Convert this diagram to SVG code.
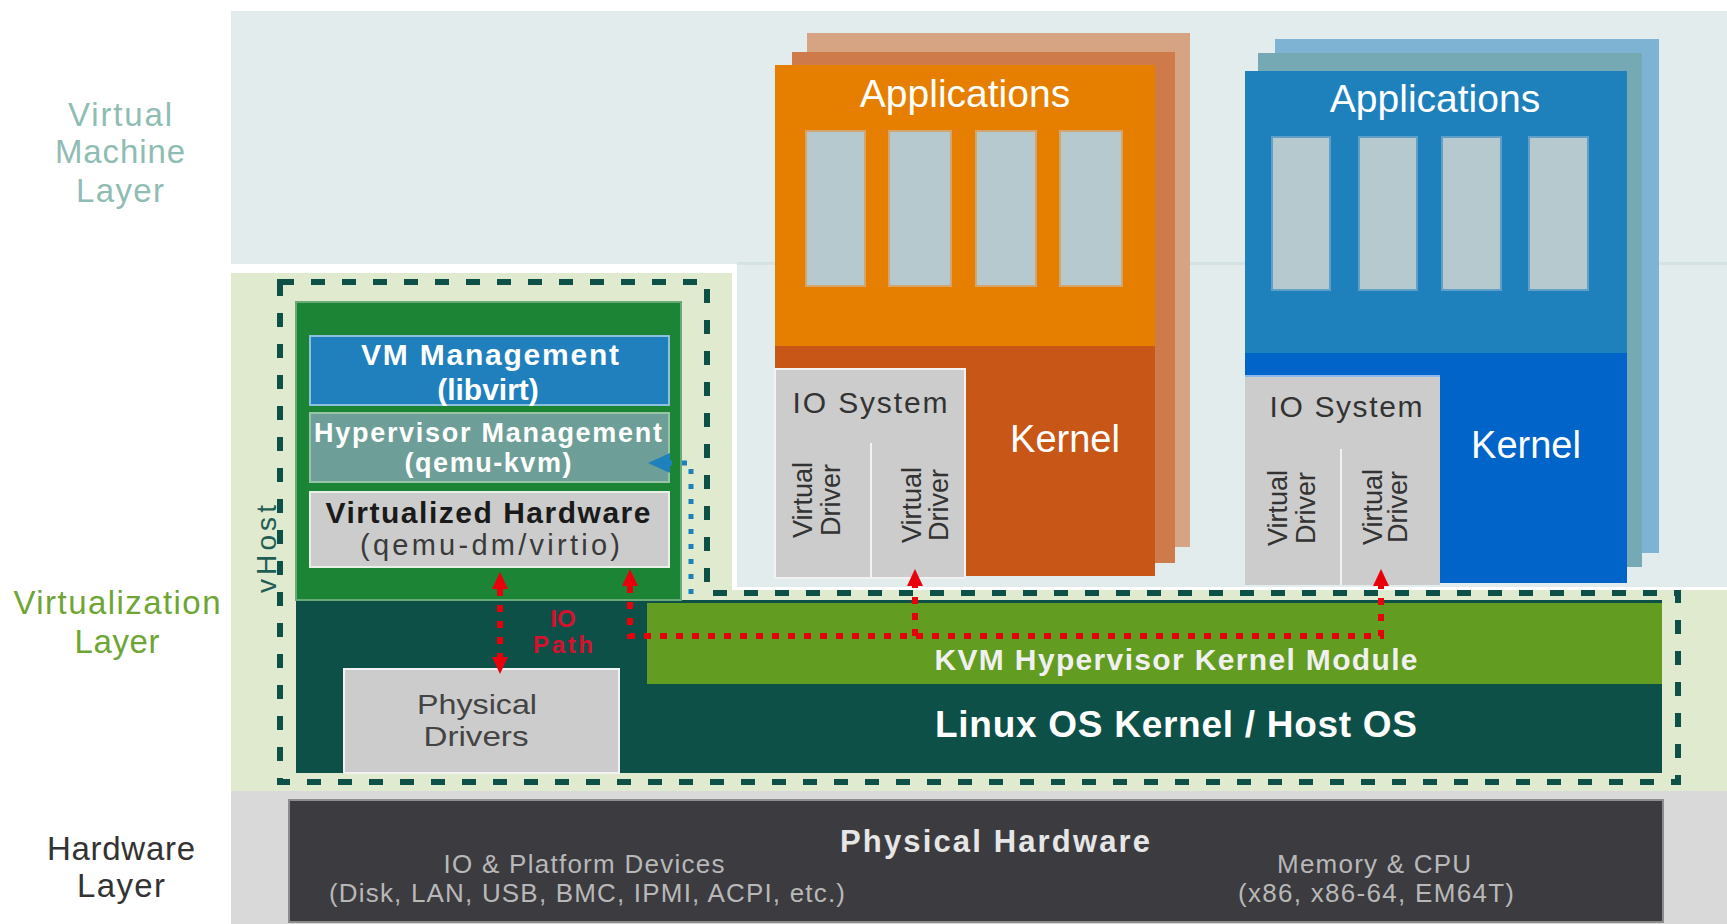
<svg xmlns="http://www.w3.org/2000/svg" width="1727" height="924" viewBox="0 0 1727 924">
<style>
text{font-family:"Liberation Sans",Arial,sans-serif;}
.lbl{font-size:33px;text-anchor:middle;}
.mid{text-anchor:middle;}
.wb{fill:#ffffff;font-weight:bold;}
.col-o{fill:#b5c9cf;stroke:#d3a66e;stroke-width:2;}
.col-b{fill:#b6c9cf;stroke:#5f9fc8;stroke-width:2;}
.io{fill:#cccccc;stroke:#f2f2f2;stroke-width:2;}
.iot{font-size:30px;fill:#333333;text-anchor:middle;}
.vd{font-size:27px;fill:#333333;text-anchor:middle;}
.kern{font-size:38px;fill:#ffffff;text-anchor:middle;}
.app{font-size:39px;fill:#ffffff;text-anchor:middle;}
.hw{font-size:26px;fill:#b8b8b8;text-anchor:middle;}
.red{fill:none;stroke:#e8000b;stroke-width:6;stroke-dasharray:7 9;}
</style>
<defs>
<marker id="arrRed" viewBox="0 0 10 10" refX="0" refY="5" markerWidth="17" markerHeight="16" markerUnits="userSpaceOnUse" orient="auto-start-reverse" preserveAspectRatio="none"><path d="M0,0 L10,5 L0,10 z" fill="#e8000b"/></marker>
<marker id="arrBlue" viewBox="0 0 10 10" refX="0" refY="5" markerWidth="22" markerHeight="20" markerUnits="userSpaceOnUse" orient="auto" preserveAspectRatio="none"><path d="M0,0 L10,5 L0,10 z" fill="#1e81bc"/></marker>
</defs>
<rect x="0" y="0" width="1727" height="924" fill="#ffffff"/>

<g id="layers">
<rect x="231" y="11" width="1496" height="253" fill="#e2ecec"/>
<rect x="737" y="264" width="990" height="323" fill="#e2ecec"/>
<rect x="737" y="262" width="990" height="3" fill="#d4e3e1"/>
<path d="M231,273 H732 V590 H1727 V791 H231 Z" fill="#dfeacf"/>
<rect x="231" y="791" width="1496" height="133" fill="#d9d9d9"/>
<text class="lbl" x="120" y="126" fill="#8fbcb3" textLength="104">Virtual</text>
<text class="lbl" x="120" y="163" fill="#8fbcb3" textLength="130">Machine</text>
<text class="lbl" x="120" y="202" fill="#8fbcb3" textLength="88">Layer</text>
<text class="lbl" x="117" y="614" fill="#6ea534" textLength="207">Virtualization</text>
<text class="lbl" x="117" y="653" fill="#6ea534" textLength="85">Layer</text>
<text class="lbl" x="121" y="860" fill="#333333" textLength="148">Hardware</text>
<text class="lbl" x="121" y="897" fill="#333333" textLength="88">Layer</text>
</g>

<g id="vm-orange">
<rect x="807" y="33" width="383" height="514" fill="#d6a383"/>
<rect x="792" y="52" width="383" height="511" fill="#cf7a4a"/>
<rect x="775" y="65" width="380" height="281" fill="#e67f00"/>
<rect x="775" y="346" width="380" height="230" fill="#c85617"/>
<text class="app" x="965" y="107">Applications</text>
<rect class="col-o" x="806" y="131" width="59" height="155"/>
<rect class="col-o" x="889" y="131" width="62" height="155"/>
<rect class="col-o" x="976" y="131" width="60" height="155"/>
<rect class="col-o" x="1060" y="131" width="62" height="155"/>
<rect class="io" x="775" y="369" width="190" height="209"/>
<line x1="871" y1="443" x2="871" y2="578" stroke="#f2f2f2" stroke-width="2"/>
<text class="iot" x="870" y="413" textLength="155">IO System</text>
<text class="vd" transform="translate(812,500) rotate(-90)"><tspan x="0" y="0">Virtual</tspan><tspan x="0" y="28">Driver</tspan></text>
<text class="vd" transform="translate(921,505) rotate(-90)"><tspan x="0" y="0">Virtual</tspan><tspan x="0" y="27">Driver</tspan></text>
<text class="kern" x="1065" y="452">Kernel</text>
</g>

<g id="vm-blue">
<rect x="1275" y="39" width="384" height="514" fill="#7fb3d3"/>
<rect x="1258" y="53" width="384" height="514" fill="#75aab5"/>
<rect x="1245" y="71" width="382" height="282" fill="#1e81bc"/>
<rect x="1245" y="353" width="382" height="230" fill="#0064c8"/>
<text class="app" x="1435" y="112">Applications</text>
<rect class="col-b" x="1272" y="137" width="58" height="153"/>
<rect class="col-b" x="1359" y="137" width="58" height="153"/>
<rect class="col-b" x="1442" y="137" width="59" height="153"/>
<rect class="col-b" x="1529" y="137" width="59" height="153"/>
<rect x="1245" y="375" width="195" height="210" fill="#cccccc"/>
<line x1="1245" y1="376" x2="1440" y2="376" stroke="#8ab8e8" stroke-width="2"/>
<line x1="1341" y1="449" x2="1341" y2="585" stroke="#f2f2f2" stroke-width="2"/>
<text class="iot" x="1346" y="417" textLength="153">IO System</text>
<text class="vd" transform="translate(1287,508) rotate(-90)"><tspan x="0" y="0">Virtual</tspan><tspan x="0" y="28">Driver</tspan></text>
<text class="vd" transform="translate(1382,507) rotate(-90)"><tspan x="0" y="0">Virtual</tspan><tspan x="0" y="25">Driver</tspan></text>
<text class="kern" x="1526" y="458">Kernel</text>
</g>

<g id="host-os">
<rect x="296" y="600" width="1366" height="173" fill="#0d5048"/>
<text x="1176" y="737" class="wb mid" font-size="37" textLength="482">Linux OS Kernel / Host OS</text>
</g>

<g id="kvm-module">
<rect x="647" y="603" width="1015" height="81" fill="#629c20"/>
<text x="1176" y="670" class="mid" font-size="30" font-weight="bold" fill="#f0f0f0" textLength="483">KVM Hypervisor Kernel Module</text>
</g>

<g id="vhost">
<rect x="296" y="302" width="385" height="298" fill="#1c8435" stroke="#6aaa78" stroke-width="2"/>
<text transform="translate(276,549) rotate(-90)" class="mid" font-size="28" fill="#1f5e55" textLength="88">vHost</text>
</g>

<g id="vm-management">
<rect x="310" y="336" width="359" height="69" fill="#1f80bd" stroke="#8cc0dc" stroke-width="2"/>
<text x="490" y="365" class="wb mid" font-size="30" textLength="258">VM Management</text>
<text x="488" y="400" class="wb mid" font-size="30">(libvirt)</text>
</g>

<g id="hypervisor-management">
<rect x="310" y="413" width="359" height="69" fill="#6d9f98" stroke="#98c4a8" stroke-width="2"/>
<text x="488" y="442" class="wb mid" font-size="27" textLength="348">Hypervisor Management</text>
<text x="488" y="472" class="wb mid" font-size="27" textLength="167">(qemu-kvm)</text>
</g>

<g id="virtualized-hardware">
<rect x="310" y="492" width="359" height="75" fill="#cccccc" stroke="#e8f0e8" stroke-width="2"/>
<text x="488" y="523" class="mid" font-size="30" font-weight="bold" fill="#1a1a1a" textLength="325">Virtualized Hardware</text>
<text x="490" y="555" class="mid" font-size="29" fill="#3a3a3a" textLength="260">(qemu-dm/virtio)</text>
</g>

<g id="physical-drivers">
<rect x="344" y="669" width="275" height="104" fill="#cccccc" stroke="#f2f2f2" stroke-width="2"/>
<text x="477" y="714" class="mid" font-size="28" fill="#444444" textLength="120" lengthAdjust="spacingAndGlyphs">Physical</text>
<text x="476" y="746" class="mid" font-size="28" fill="#444444" textLength="105" lengthAdjust="spacingAndGlyphs">Drivers</text>
</g>

<g id="physical-hardware">
<rect x="289" y="800" width="1374" height="122" fill="#3c3b40" stroke="#8c8c8c" stroke-width="2"/>
<text x="995" y="852" class="mid" font-size="31" font-weight="bold" fill="#e6e6e6" textLength="310">Physical Hardware</text>
<text class="hw" x="584" y="873" textLength="281">IO &amp; Platform Devices</text>
<text class="hw" x="587" y="902" textLength="516">(Disk, LAN, USB, BMC, IPMI, ACPI, etc.)</text>
<text class="hw" x="1374" y="873" textLength="194">Memory &amp; CPU</text>
<text class="hw" x="1376" y="902" textLength="276">(x86, x86-64, EM64T)</text>
</g>

<g id="vhost-boundary">
<path d="M280,282 H707 V593 H1678 V782 H280 Z" fill="none" stroke="#0d5048" stroke-width="6" stroke-dasharray="14 17"/>
</g>

<g id="connectors">
<path class="red" d="M500,589 V657" marker-start="url(#arrRed)" marker-end="url(#arrRed)"/>
<path class="red" d="M630,586 V636 H1381 V586" marker-start="url(#arrRed)" marker-end="url(#arrRed)"/>
<path class="red" d="M915,636 V586" marker-end="url(#arrRed)"/>
<path d="M691,594 V463 H670" fill="none" stroke="#1e81bc" stroke-width="5" stroke-dasharray="5 10" marker-end="url(#arrBlue)"/>
<text x="563" y="627" class="mid" font-size="24" font-weight="bold" fill="#d6102e">IO</text>
<text x="563" y="653" class="mid" font-size="24" font-weight="bold" fill="#d6102e" textLength="60">Path</text>
</g>
</svg>
